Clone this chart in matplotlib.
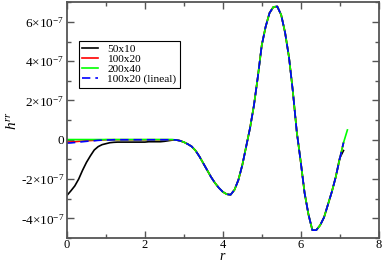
import matplotlib
matplotlib.use("Agg")
from matplotlib import pyplot as plt
from matplotlib.ticker import MultipleLocator, FixedLocator, FixedFormatter
import numpy as np

plt.rcParams['font.family'] = ['Liberation Serif', 'DejaVu Serif']
plt.rcParams['mathtext.fontset'] = 'custom'
plt.rcParams['mathtext.rm'] = 'Liberation Serif'
plt.rcParams['mathtext.it'] = 'Liberation Serif:italic'

# r grid, step 0.1 from 0 to 7.2
r = [round(0.1 * i, 1) for i in range(73)]

# shared curve (units of 1e-7), r = 2.8 .. 7.2
tail = [-0.01, -0.05, -0.12, -0.22, -0.34, -0.55, -0.85, -1.2, -1.55, -1.9,
        -2.2, -2.45, -2.65, -2.77, -2.8, -2.55, -2.05, -1.3, -0.35, 0.6,
        1.75, 3.2, 4.8, 5.75, 6.45, 6.76, 6.78, 6.35, 5.45, 4.2,
        2.45, 0.4, -1.1, -2.7, -3.8, -4.6, -4.6, -4.35, -3.95, -3.3,
        -2.65, -1.9, -1.0, -0.15, 0.5]

# r = 0 .. 2.7 for each series
head_50x10 = [-2.83, -2.6, -2.35, -2.0, -1.55, -1.15, -0.82, -0.52, -0.35, -0.25,
              -0.2, -0.15, -0.13, -0.12, -0.12, -0.12, -0.12, -0.12, -0.12, -0.12,
              -0.12, -0.1, -0.1, -0.1, -0.1, -0.08, -0.05, -0.02]
head_100x20 = [-0.12, -0.11, -0.1, -0.08, -0.07, -0.05, -0.04, -0.03, -0.02, -0.01,
               0, 0, 0, 0, 0, 0, 0, 0, 0, 0,
               0, 0, 0, 0, 0, 0, 0, 0]
head_200x40 = [0.01] * 28
head_lineal = [-0.17, -0.16, -0.14, -0.12, -0.1, -0.08, -0.06, -0.05, -0.03, -0.02,
               -0.01, -0.01, 0, 0, 0, 0, 0, 0, 0, 0,
               0, 0, 0, 0, 0, 0, 0, 0]

h_50x10 = head_50x10 + tail[:42] + [-0.95, -0.55]
h_100x20 = head_100x20 + tail[:-1]
h_200x40 = head_200x40 + tail
h_lineal = head_lineal + tail[:-1]

fig = plt.figure(figsize=(3.82, 2.62), dpi=100)
ax = fig.add_axes([0.1754, 0.0916, 0.8156, 0.9])

ax.plot(r[:len(h_50x10)], np.array(h_50x10) * 1e-7, color='black', lw=1.2, label='50x10')
ax.plot(r[:len(h_100x20)], np.array(h_100x20) * 1e-7, color='red', lw=1.2, label='100x20')
ax.plot(r[:len(h_200x40)], np.array(h_200x40) * 1e-7, color='#00ff00', lw=1.2, label='200x40')
ax.plot(r[:len(h_lineal)], np.array(h_lineal) * 1e-7, color='blue', lw=1.2,
        ls=(0, (5, 3)), label='100x20 (lineal)')

ax.set_xlim(0, 8)
ax.set_ylim(-5e-7, 7e-7)
ax.xaxis.set_major_locator(MultipleLocator(2))
ax.xaxis.set_minor_locator(MultipleLocator(1))
yt = [-4e-7, -2e-7, 0, 2e-7, 4e-7, 6e-7]
ax.yaxis.set_major_locator(FixedLocator(yt))
ax.yaxis.set_major_formatter(FixedFormatter(
    ['-4$\\times$10$^{-7}$', '-2$\\times$10$^{-7}$', '0',
     '2$\\times$10$^{-7}$', '4$\\times$10$^{-7}$', '6$\\times$10$^{-7}$']))
ax.yaxis.set_minor_locator(MultipleLocator(1e-7))

ax.tick_params(which='both', direction='in', top=True, right=True,
               labelsize=9.5, color='#555555')
ax.tick_params(axis='y', pad=2)
ax.tick_params(axis='x', pad=1, labelsize=9)
ax.tick_params(which='major', length=5, width=1)
ax.tick_params(which='minor', length=3, width=1)
for s in ax.spines.values():
  s.set_color('#555555')
  s.set_linewidth(1.3)

ax.set_xlabel('$r$', fontsize=10, labelpad=-1)
ax.set_ylabel('$h^{rr}$', fontsize=11, labelpad=1)

leg = ax.legend(loc='upper left', bbox_to_anchor=(0.038, 0.836), borderaxespad=0,
                fontsize=8.2, handlelength=1.35, handletextpad=0.85, labelspacing=0.0,
                borderpad=0.3, fancybox=False, edgecolor='black', framealpha=1)
leg.get_frame().set_linewidth(0.8)

plt.savefig('out.png', dpi=100)
